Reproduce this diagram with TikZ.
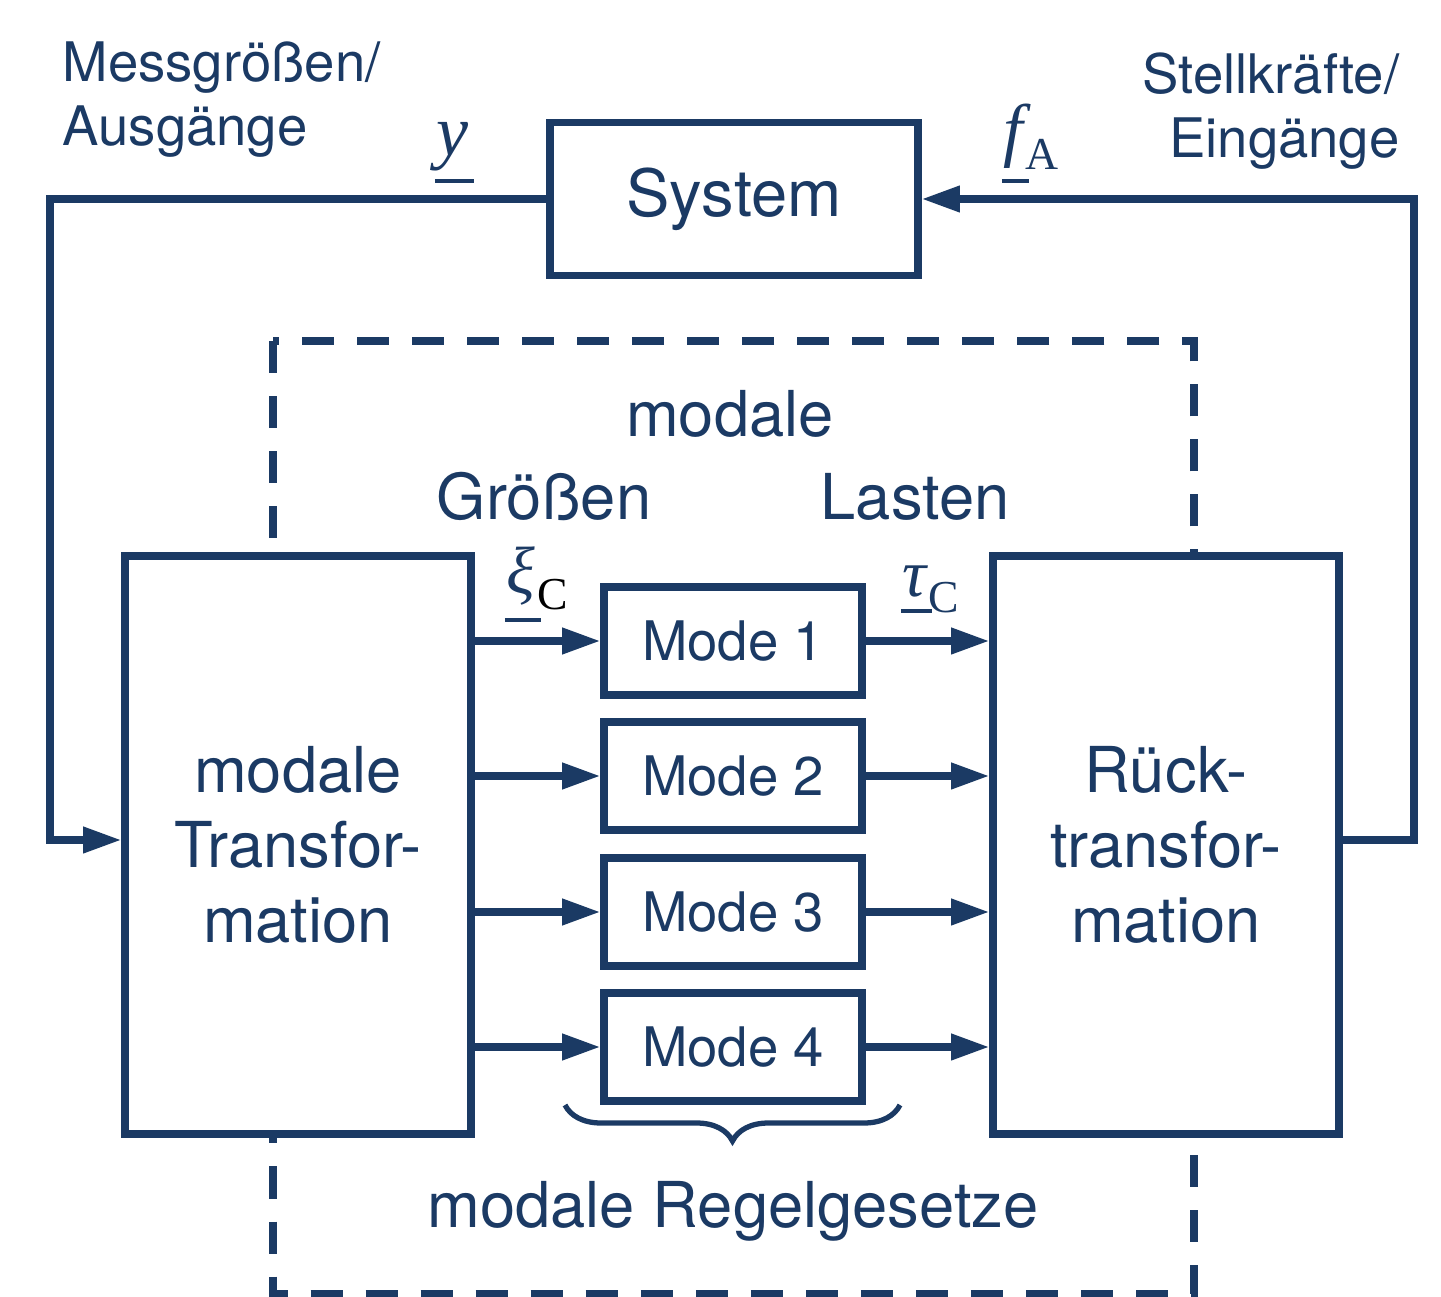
\documentclass[tikz,border=0pt]{standalone}
\usepackage{fontspec}
\setmainfont{TeX Gyre Heros}
\newfontfamily\symfont{Liberation Serif}
\usetikzlibrary{arrows.meta,decorations.pathreplacing}
\definecolor{navy}{HTML}{1B3A64}
\tikzset{
  blk/.style={draw=navy, line width=2.1pt, fill=white, inner sep=0pt, align=center, text=navy},
  arr/.style={draw=navy, line width=2pt, -{Triangle[length=0.38cm,width=0.25cm]}},
  lbl/.style={text=navy, inner sep=0pt},
}
% underlined italic symbol, bar set #1 below the baseline
\newcommand{\ubar}[2]{\setbox0\hbox{\symfont\itshape #2}\rlap{\hspace{-0.5pt}\raisebox{-#1}{\rule{\dimexpr\wd0+2pt\relax}{1.2pt}}}\box0\hspace{0.6pt}}
\newcommand{\lowsub}[1]{\raisebox{-4.3pt}{\fontsize{13}{13}\selectfont\symfont #1}}

\begin{document}
\begin{tikzpicture}[x=0.01cm, y=-0.01cm]
  \useasboundingbox (0,0) rectangle (1441,1297);
  \draw[navy, line width=2pt, dash pattern=on 0.32cm off 0.23cm] (273,341) rectangle (1194,1294);

  \node[blk, minimum width=3.68cm, minimum height=1.53cm, font=\fontsize{18.5}{22}\selectfont] (sys) at (734,199) {System};
  \node[blk, minimum width=3.46cm, minimum height=5.78cm, font=\fontsize{18}{21.3}\selectfont] (modtrans) at (298,845) {modale\\Transfor-\\mation};
  \node[blk, minimum width=3.46cm, minimum height=5.78cm, font=\fontsize{18}{21.3}\selectfont] (ruecktrans) at (1166,845) {Rück-\\transfor-\\mation};
  \foreach \i/\y in {1/641,2/776,3/912,4/1047}
    \node[blk, minimum width=2.58cm, minimum height=1.08cm, font=\fontsize{15.5}{18}\selectfont] (mode\i) at (733,\y) {Mode \i};

  \foreach \i in {1,...,4} {
    \draw[arr] (modtrans.east |- mode\i) -- (mode\i);
    \draw[arr] (mode\i) -- (ruecktrans.west |- mode\i);
  }

  \coordinate (lcorner) at (50,840);
  \coordinate (rcorner) at (1414,840);
  \draw[arr] (sys.west) -| (lcorner) -- (modtrans.west |- lcorner);
  \draw[arr] (ruecktrans.east |- rcorner) -- (rcorner) |- (sys.east);

  \draw[navy, line width=1.5pt, decorate, decoration={brace, mirror, amplitude=0.36cm}] (565,1105) -- (900,1105);

  \node[lbl, anchor=base west, align=left, font=\fontsize{15.5}{18.2}\selectfont] (mess) at (62,146) {Messgrößen/\\Ausgänge};
  \node[lbl, anchor=base east, align=right, font=\fontsize{15.5}{18.2}\selectfont] (stell) at (1400,158) {Stellkräfte/\\Eingänge};
  \node[lbl, anchor=base, font=\fontsize{18}{21}\selectfont] (modal) at (730,437) {modale};
  \node[lbl, anchor=base, font=\fontsize{18}{21}\selectfont] (groessen) at (544,520) {Größen};
  \node[lbl, anchor=base, font=\fontsize{18}{21}\selectfont] (lasten) at (915,520) {Lasten};
  \node[lbl, anchor=base, font=\fontsize{18}{21}\selectfont] (regel) at (733,1228) {modale Regelgesetze};

  \node[lbl, anchor=base west, font=\fontsize{20.5}{24}\selectfont] (ylab) at (436,156) {\ubar{7.8pt}{y}};
  \node[lbl, anchor=base west, font=\fontsize{20}{24}\selectfont] (flab) at (1003,154) {\ubar{8.2pt}{f}\lowsub{A}};
  \node[lbl, anchor=base west, font=\fontsize{19}{22}\selectfont] (xilab) at (506,594) {\ubar{8pt}{ξ}\lowsub{\color{black}C}};
  \node[lbl, anchor=base west, font=\fontsize{19}{22}\selectfont] (taulab) at (902,597) {\ubar{4.6pt}{τ}\lowsub{C}};
\end{tikzpicture}
\end{document}
